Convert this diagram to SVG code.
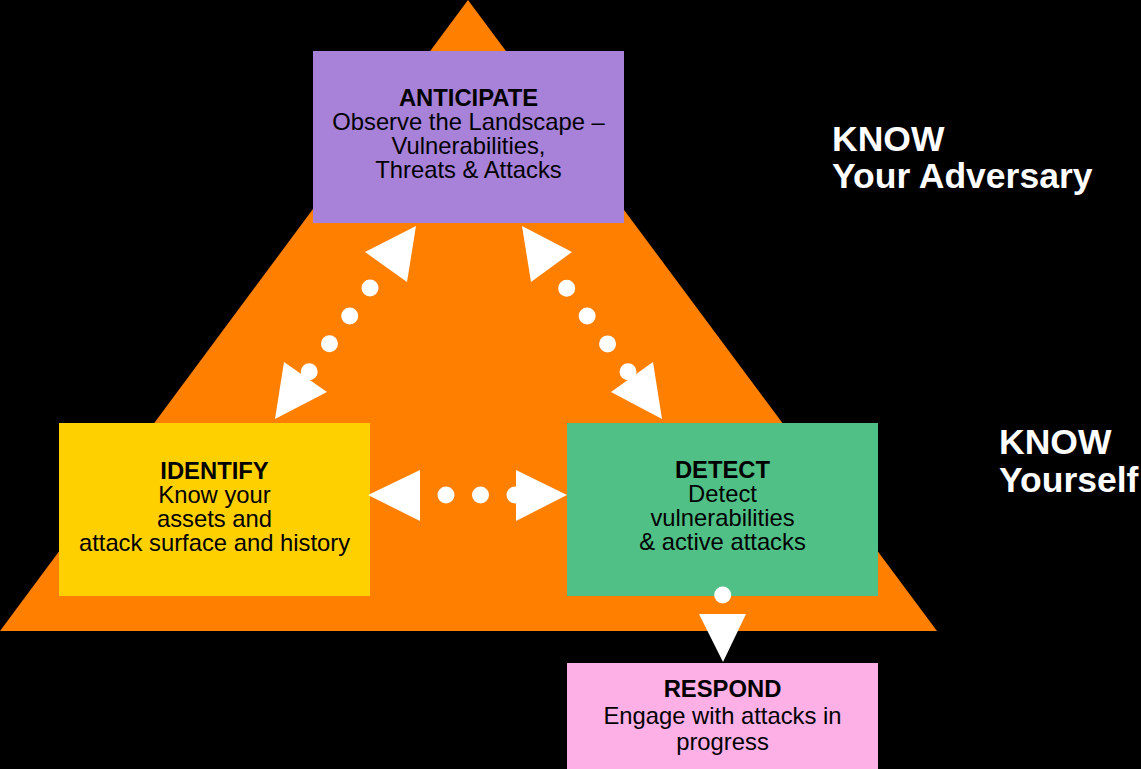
<svg xmlns="http://www.w3.org/2000/svg" width="1141" height="769" viewBox="0 0 1141 769">
<style>
.t{font-family:"Liberation Sans",Arial,sans-serif;font-size:23.8px;fill:#000;text-anchor:middle}
.b{font-weight:bold}
.k{font-family:"Liberation Sans",Arial,sans-serif;font-size:35.5px;font-weight:bold;fill:#fff}
.dots{fill:none;stroke:#fff;stroke-width:17;stroke-linecap:round;stroke-dasharray:0 34.5}
.head{fill:#fff}
.dot{fill:#fff}
</style>
<rect x="0" y="0" width="1141" height="769" fill="#000"/>
<polygon points="468,0 937,631 0,631" fill="#FF7F00"/>
<g id="anticipate">
<rect x="313" y="51" width="311" height="172" fill="#A782D8"/>
<text class="t b" x="468.5" y="106">ANTICIPATE</text>
<text class="t" x="468.5" y="130">Observe the Landscape –</text>
<text class="t" x="468.5" y="154">Vulnerabilities,</text>
<text class="t" x="468.5" y="178">Threats &amp; Attacks</text>
</g>
<g id="identify">
<rect x="59" y="423" width="311" height="173" fill="#FFD000"/>
<text class="t b" x="214.5" y="479">IDENTIFY</text>
<text class="t" x="214.5" y="503">Know your</text>
<text class="t" x="214.5" y="527">assets and</text>
<text class="t" x="214.5" y="551">attack surface and history</text>
</g>
<g id="detect">
<rect x="567" y="423" width="311" height="173" fill="#50C087"/>
<text class="t b" x="722.5" y="478">DETECT</text>
<text class="t" x="722.5" y="502">Detect</text>
<text class="t" x="722.5" y="526">vulnerabilities</text>
<text class="t" x="722.5" y="550">&amp; active attacks</text>
</g>
<g id="respond">
<rect x="567" y="663" width="311" height="110" fill="#FCB0E6"/>
<text class="t b" x="722.5" y="697">RESPOND</text>
<text class="t" x="722.5" y="724">Engage with attacks in</text>
<text class="t" x="722.5" y="750">progress</text>
</g>
<g id="know-adversary">
<text class="k" x="832" y="151">KNOW</text>
<text class="k" x="832" y="188">Your Adversary</text>
</g>
<g id="know-yourself">
<text class="k" x="999" y="454">KNOW</text>
<text class="k" x="999" y="492">Yourself</text>
</g>
<g id="connectors">
<g id="anticipate-identify">
<path class="dots" d="M370,288 L308.8,372.3"/>
<polygon class="head" points="416,226 365,252 407,282"/>
<polygon class="head" points="284,362 327,392 275,419"/>
</g>
<g id="anticipate-detect">
<path class="dots" d="M566.7,288.3 L628.5,372.3"/>
<polygon class="head" points="522,226 572,252 531,282"/>
<polygon class="head" points="653,362 611,392 662,419"/>
</g>
<g id="identify-detect">
<path class="dots" d="M446,495 L515.5,495"/>
<polygon class="head" points="368,495 420,470 420,521"/>
<polygon class="head" points="516,470 567,495 516,521"/>
</g>
<g id="detect-respond">
<circle class="dot" cx="722.7" cy="595" r="8.5"/>
<polygon class="head" points="699,614 746,614 723,662"/>
</g>
</g>
</svg>
